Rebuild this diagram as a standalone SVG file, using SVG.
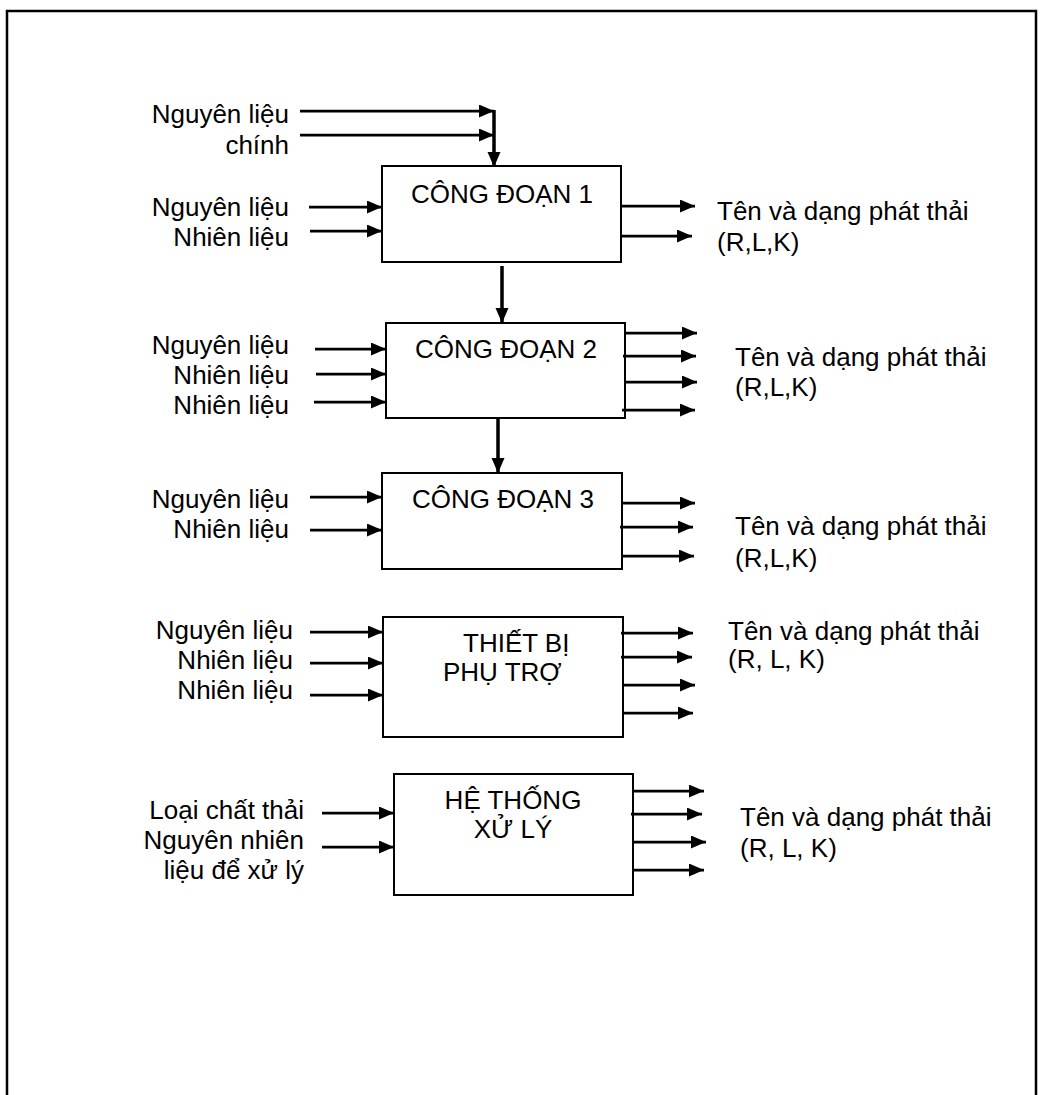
<svg xmlns="http://www.w3.org/2000/svg" width="1046" height="1095" viewBox="0 0 1046 1095">
<style>
text{font-family:"Liberation Sans",Arial,sans-serif;font-size:26px;fill:#000}
.r{text-anchor:end}
.m{text-anchor:middle}
.box{fill:#fff;stroke:#000;stroke-width:2}
.a{stroke:#000;stroke-width:2.75;fill:none;marker-end:url(#ah)}
.v{stroke-width:3.5}
</style>
<defs>
<marker id="ah" markerUnits="userSpaceOnUse" markerWidth="16" markerHeight="14" refX="15" refY="6.5" orient="auto">
<path d="M0,0 L15,6.5 L0,13 z" fill="#000"/>
</marker>
</defs>
<rect width="1046" height="1095" fill="#fff"/>
<path d="M7,1095 V11 H1036 V1095" fill="none" stroke="#000" stroke-width="2.5"/>

<g id="src">
<text class="r" x="289" y="123">Nguyên liệu</text>
<text class="r" x="289" y="154">chính</text>
</g>

<g id="n1">
<rect class="box" x="382" y="166" width="239" height="96"/>
<text class="m" x="502" y="203">CÔNG ĐOẠN 1</text>
<text class="r" x="289" y="216">Nguyên liệu</text>
<text class="r" x="289" y="246">Nhiên liệu</text>
<text x="717" y="220">Tên và dạng phát thải</text>
<text x="717" y="251">(R,L,K)</text>
</g>

<g id="n2">
<rect class="box" x="386" y="323" width="239" height="95"/>
<text class="m" x="506" y="358">CÔNG ĐOẠN 2</text>
<text class="r" x="289" y="354">Nguyên liệu</text>
<text class="r" x="289" y="384">Nhiên liệu</text>
<text class="r" x="289" y="414">Nhiên liệu</text>
<text x="735" y="366">Tên và dạng phát thải</text>
<text x="735" y="396">(R,L,K)</text>
</g>

<g id="n3">
<rect class="box" x="382" y="473" width="240" height="96"/>
<text class="m" x="503" y="508">CÔNG ĐOẠN 3</text>
<text class="r" x="289" y="508">Nguyên liệu</text>
<text class="r" x="289" y="538">Nhiên liệu</text>
<text x="735" y="535">Tên và dạng phát thải</text>
<text x="735" y="567">(R,L,K)</text>
</g>

<g id="n4">
<rect class="box" x="383" y="617" width="240" height="120"/>
<text x="463" y="652">THIẾT BỊ</text>
<text x="443" y="681">PHỤ TRỢ</text>
<text class="r" x="293" y="639">Nguyên liệu</text>
<text class="r" x="293" y="669">Nhiên liệu</text>
<text class="r" x="293" y="699">Nhiên liệu</text>
<text x="728" y="640">Tên và dạng phát thải</text>
<text x="728" y="668">(R, L, K)</text>
</g>

<g id="n5">
<rect class="box" x="394" y="774" width="239" height="121"/>
<text class="m" x="513" y="809">HỆ THỐNG</text>
<text class="m" x="513" y="838">XỬ LÝ</text>
<text class="r" x="304" y="819">Loại chất thải</text>
<text class="r" x="304" y="849">Nguyên nhiên</text>
<text class="r" x="304" y="879">liệu để xử lý</text>
<text x="740" y="826">Tên và dạng phát thải</text>
<text x="740" y="857">(R, L, K)</text>
</g>

<g id="connectors">
<line class="a" x1="300" y1="111" x2="494" y2="111"/>
<line class="a" x1="300" y1="135" x2="494" y2="135"/>
<line class="a v" x1="494" y1="110" x2="494" y2="167"/>
<line class="a" x1="309" y1="207" x2="382" y2="207"/>
<line class="a" x1="310" y1="231" x2="382" y2="231"/>
<line class="a" x1="621" y1="206" x2="695" y2="206"/>
<line class="a" x1="620" y1="236" x2="692" y2="236"/>
<line class="a v" x1="502" y1="266" x2="502" y2="323"/>

<line class="a" x1="315" y1="349" x2="386" y2="349"/>
<line class="a" x1="316" y1="374" x2="386" y2="374"/>
<line class="a" x1="314" y1="402" x2="386" y2="402"/>
<line class="a" x1="625" y1="333" x2="697" y2="333"/>
<line class="a" x1="623" y1="356" x2="696" y2="356"/>
<line class="a" x1="625" y1="382" x2="697" y2="382"/>
<line class="a" x1="622" y1="410" x2="695" y2="410"/>
<line class="a v" x1="498" y1="418" x2="498" y2="473"/>

<line class="a" x1="310" y1="497" x2="382" y2="497"/>
<line class="a" x1="310" y1="530" x2="382" y2="530"/>
<line class="a" x1="622" y1="503" x2="695" y2="503"/>
<line class="a" x1="620" y1="527" x2="693" y2="527"/>
<line class="a" x1="622" y1="556" x2="694" y2="556"/>

<line class="a" x1="310" y1="632" x2="383" y2="632"/>
<line class="a" x1="310" y1="663" x2="383" y2="663"/>
<line class="a" x1="310" y1="695" x2="383" y2="695"/>
<line class="a" x1="621" y1="633" x2="693" y2="633"/>
<line class="a" x1="621" y1="657" x2="692" y2="657"/>
<line class="a" x1="623" y1="685" x2="695" y2="685"/>
<line class="a" x1="623" y1="713" x2="693" y2="713"/>

<line class="a" x1="322" y1="813" x2="394" y2="813"/>
<line class="a" x1="322" y1="847" x2="394" y2="847"/>
<line class="a" x1="632" y1="791" x2="704" y2="791"/>
<line class="a" x1="631" y1="814" x2="702" y2="814"/>
<line class="a" x1="633" y1="842" x2="706" y2="842"/>
<line class="a" x1="633" y1="870" x2="704" y2="870"/>
</g>
</svg>
